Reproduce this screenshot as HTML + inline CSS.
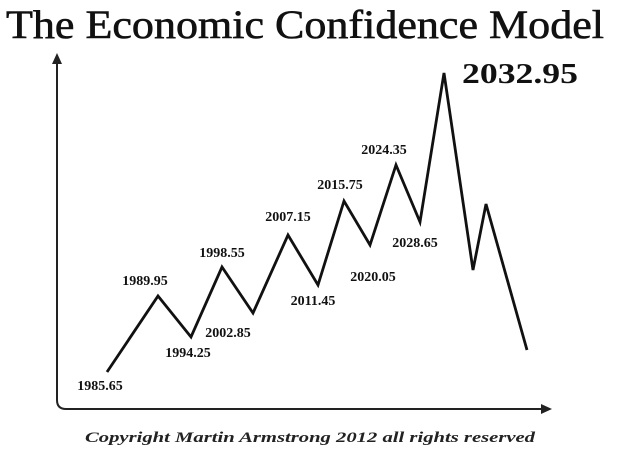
<!DOCTYPE html>
<html><head><meta charset="utf-8"><style>
html,body{margin:0;padding:0;background:#fff;}
svg{display:block;}
</style></head><body>
<svg id="chart" width="620" height="461" viewBox="0 0 620 461" xmlns="http://www.w3.org/2000/svg">
<text x="6" y="38" font-family="Liberation Serif, serif" font-size="40" textLength="598" lengthAdjust="spacingAndGlyphs" fill="#111" stroke="#111" stroke-width="0.6">The Economic Confidence Model</text>
<text x="462" y="83" font-family="Liberation Serif, serif" font-weight="bold" font-size="29" textLength="116" lengthAdjust="spacingAndGlyphs" fill="#111">2032.95</text>
<path d="M57,62 L57,400 Q57,409 66,409 L543,409" fill="none" stroke="#222" stroke-width="2"/>
<path d="M52,64 L57,53 L62,64 Z" fill="#222"/>
<path d="M541,404 L552,409 L541,414 Z" fill="#222"/>
<g id="series"></g>
<g id="labels"></g>
<text x="310" y="442" text-anchor="middle" font-family="Liberation Serif, serif" font-style="italic" font-weight="bold" font-size="15" textLength="450" lengthAdjust="spacingAndGlyphs" fill="#222">Copyright Martin Armstrong 2012 all rights reserved</text>
</svg>
<script>
const t = [0,51,84,115,146,181,211,237,263,289,313,337,366,379,420];
const v = [37,113,72,142,96,174,124,208,164,244,187,336,139,205,59];
const labelText = ["1985.65","1989.95","1994.25","1998.55","2002.85","2007.15","2011.45","2015.75","2020.05","2024.35","2028.65"];
const labelDx = [-7,-13,-3,0,-25,0,-5,-4,3,-12,-5];
const labelDy = [18,-11,20,-10,24,-14,20,-12,36,-11,25];
function xScale(d){return 107 + d;}
function yScale(d){return 409 - d;}
const NS="http://www.w3.org/2000/svg";
const series=document.getElementById('series');
let d="";
for(let i=0;i<t.length;i++){d+=(i?"L":"M")+xScale(t[i])+","+yScale(v[i]);}
const line=document.createElementNS(NS,'path');
line.setAttribute('d',d);
line.setAttribute('fill','none');
line.setAttribute('stroke','#111');
line.setAttribute('stroke-width','2.8');
line.setAttribute('stroke-linejoin','miter');


series.appendChild(line);
const labels=document.getElementById('labels');
for(let i=0;i<labelText.length;i++){
  const tx=document.createElementNS(NS,'text');
  tx.setAttribute('x',xScale(t[i])+labelDx[i]);
  tx.setAttribute('y',yScale(v[i])+labelDy[i]);
  tx.setAttribute('text-anchor','middle');
  tx.setAttribute('font-family','Liberation Serif, serif');
  tx.setAttribute('font-weight','bold');
  tx.setAttribute('font-size','14');
  tx.setAttribute('fill','#111');
  tx.textContent=labelText[i];
  
  
  labels.appendChild(tx);
}
</script>
</body></html>
